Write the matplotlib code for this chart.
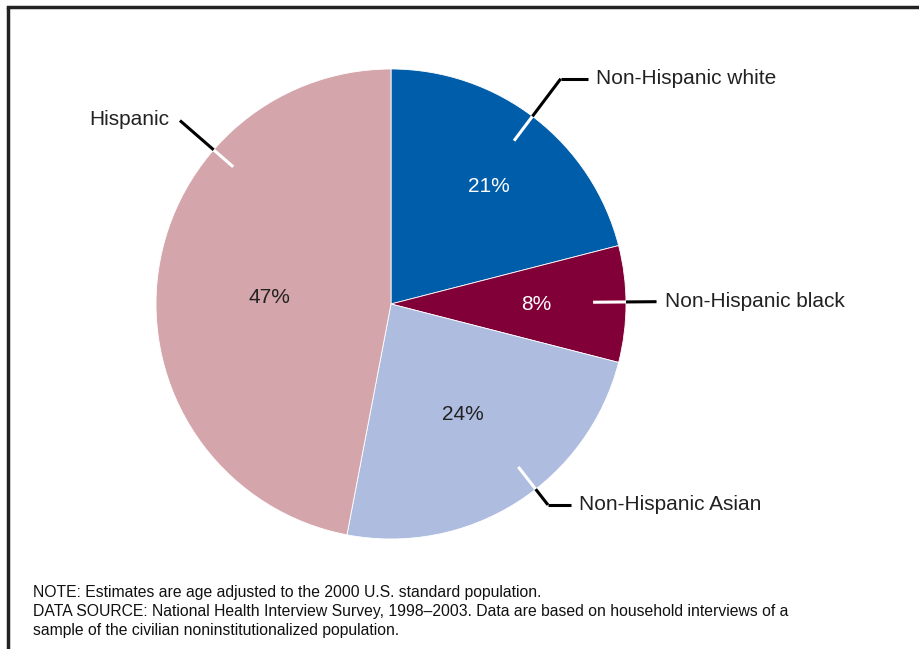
import numpy as np
import matplotlib
matplotlib.use("Agg")
import matplotlib.pyplot as plt

labels = ["Non-Hispanic white", "Non-Hispanic black", "Non-Hispanic Asian", "Hispanic"]
values = [21, 8, 24, 47]
colors = ["#005da9", "#820038", "#adbcdf", "#d4a6ac"]
pct_colors = ["white", "white", "#222222", "#222222"]

note_lines = [
    "NOTE: Estimates are age adjusted to the 2000 U.S. standard population.",
    "DATA SOURCE: National Health Interview Survey, 1998\u20132003. Data are based on household interviews of a",
    "sample of the civilian noninstitutionalized population.",
]

plt.rcParams["font.family"] = ["Liberation Sans", "DejaVu Sans"]

W, H = 919, 649
fig = plt.figure(figsize=(W / 100, H / 100), dpi=100)
ax = fig.add_axes([0, 0, 1, 1])

cx, cy, R = 391, H - 304, 235
wedges, _ = ax.pie(values, colors=colors, startangle=90, counterclock=False,
                   center=(cx, cy), radius=R, frame=True,
                   wedgeprops=dict(edgecolor="white", linewidth=0.6))
ax.set_xlim(0, W)
ax.set_ylim(0, H)
ax.set_aspect("equal")
ax.axis("off")

# percentage labels near wedge mid-angle (radius, angle nudge)
pct_pos = [(0.65, -2.0), (0.62, 0.0), (0.56, 0.5), (0.52, 2.5)]
for w, v, (r, da), c in zip(wedges, values, pct_pos, pct_colors):
    a = np.deg2rad((w.theta1 + w.theta2) / 2 + da)
    ax.text(cx + r * R * np.cos(a), cy + r * R * np.sin(a), "%d%%" % v,
            ha="center", va="center", fontsize=15, color=c)

# leader lines: angle, inner r, outer r, horizontal tail, text side
leaders = [
    (53.0, 0.87, 1.20, 27, "left"),
    (0.5, 0.86, 1.13, 0, "left"),
    (-52.0, 0.88, 1.085, 23, "left"),
    (139.0, 0.89, 1.19, 0, "right"),
]
for lab, (ang, r0, r1, tail, side) in zip(labels, leaders):
    a = np.deg2rad(ang)
    ca, sa = np.cos(a), np.sin(a)
    ax.plot([cx + r0 * R * ca, cx + R * ca], [cy + r0 * R * sa, cy + R * sa],
            color="white", lw=2.2, solid_capstyle="butt")
    x1, y1 = cx + r1 * R * ca, cy + r1 * R * sa
    ax.plot([cx + R * ca, x1], [cy + R * sa, y1], color="black", lw=2.2,
            solid_capstyle="butt")
    if tail:
        ax.plot([x1, x1 + tail], [y1, y1], color="black", lw=2.2,
                solid_capstyle="butt")
    if side == "left":
        ax.text(x1 + tail + 8, y1, lab, ha="left", va="center", fontsize=15,
                color="#222222")
    else:
        ax.text(x1 - 11, y1 + 1, lab, ha="right", va="center", fontsize=15,
                color="#222222")

for i, line in enumerate(note_lines):
    ax.text(33, H - 592 - i * 19.5, line, ha="left", va="center",
            fontsize=11.3, color="#111111")

# frame: left and top rules
ax.plot([8, 8], [0, H - 7], color="#222222", lw=2.5, solid_capstyle="butt")
ax.plot([8, W], [H - 7, H - 7], color="#222222", lw=2.5, solid_capstyle="projecting")

fig.savefig("out.png", dpi=100)
